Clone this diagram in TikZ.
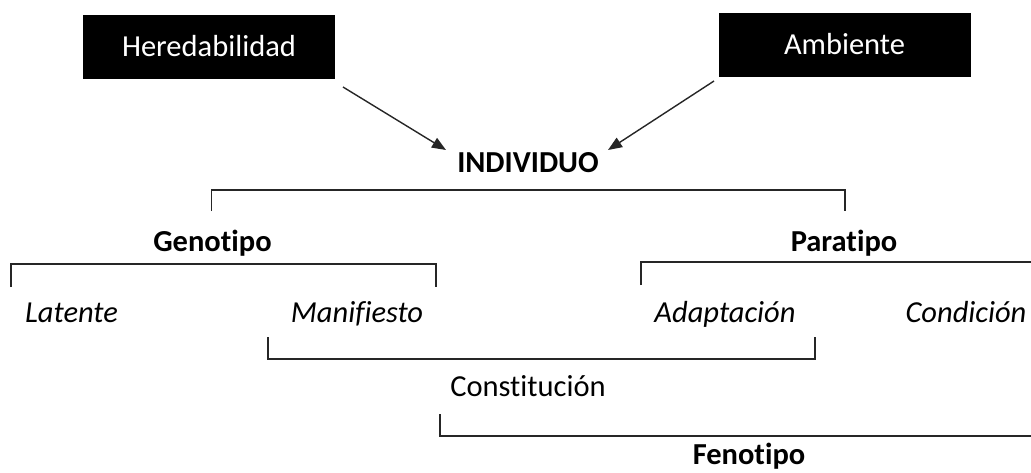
\documentclass[tikz,border=0pt]{standalone}
\usepackage{fontspec}
\setmainfont[Ligatures=NoCommon]{Carlito}
\usetikzlibrary{arrows.meta}
\begin{document}
\begin{tikzpicture}[x=1pt,y=-1pt,
  txt/.style={inner sep=0pt,anchor=base,font=\fontsize{30.5}{36}\selectfont},
  bold/.style={txt,font=\fontsize{30.5}{36}\selectfont\bfseries},
  ital/.style={txt,font=\fontsize{30.5}{36}\selectfont\itshape},
  blackbox/.style={fill=black,draw=black,text=white,minimum width=251pt,minimum height=63pt,inner sep=0pt,font=\fontsize{30.5}{36}\selectfont},
  bracket/.style={line width=1.4pt,black!85},
  arr/.style={line width=1.4pt,black!85,-{Triangle[length=14pt,width=11pt]}}]
\useasboundingbox (0,0) rectangle (1031,472);
% boxes
\node[blackbox] (her) at (209,46.5) {Heredabilidad};
\node[blackbox] (amb) at (844.5,44.5) {Ambiente};
% labels
\node[bold] (ind) at (528,172) {INDIVIDUO};
\node[bold] (gen) at (212.5,251) {Genotipo};
\node[bold] (par) at (844,251) {Paratipo};
\node[ital] (lat) at (71.5,322) {Latente};
\node[ital] (man) at (357,322) {Manifiesto};
\node[ital] (ada) at (725,322) {Adaptación};
\node[ital] (con) at (966,322) {Condición};
\node[txt] (cst) at (528,396) {Constitución};
\node[bold] (fen) at (749,464.5) {Fenotipo};
% arrow coordinates
\coordinate (h1) at (343,87);
\coordinate (i1) at (446,150);
\coordinate (a1) at (714,81);
\coordinate (i2) at (608,150);
\draw[arr] (h1) -- (i1);
\draw[arr] (a1) -- (i2);
% brackets
\draw[bracket] (211.5,211) |- (845,190) -- (845,211);
\draw[bracket] (11,287) |- (436,264) -- (436,287);
\draw[bracket] (641,285) |- (1035,262);
\draw[bracket] (268,337) |- (815,359) -- (815,337);
\draw[bracket] (440,414) |- (1035,436);
\end{tikzpicture}
\end{document}
